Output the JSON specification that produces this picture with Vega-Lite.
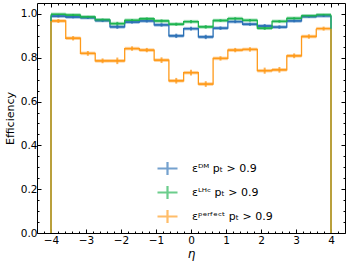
{
  "$schema": "https://vega.github.io/schema/vega-lite/v6.json",
  "width": 308,
  "height": 230,
  "autosize": "none",
  "padding": {"left": 37, "top": 3, "right": 3, "bottom": 29},
  "background": "white",
  "config": {
    "view": {"stroke": "black", "strokeWidth": 1},
    "font": "DejaVu Sans",
    "axis": {"domain": false, "grid": false, "tickColor": "black", "labelColor": "black", "titleColor": "black", "labelFont": "DejaVu Sans", "titleFont": "DejaVu Sans", "labelFontSize": 10.5, "titleFontWeight": "normal"},
    "legend": {"labelFont": "DejaVu Sans"}
  },
  "data": {
    "values": [
      {"series": "DM", "eta": -3.7895, "lo": -4.0, "hi": -3.5789, "eff": 0.990, "lower": 0.984, "upper": 0.996},
      {"series": "DM", "eta": -3.3684, "lo": -3.5789, "hi": -3.1579, "eff": 0.986, "lower": 0.980, "upper": 0.992},
      {"series": "DM", "eta": -2.9474, "lo": -3.1579, "hi": -2.7368, "eff": 0.983, "lower": 0.977, "upper": 0.989},
      {"series": "DM", "eta": -2.5263, "lo": -2.7368, "hi": -2.3158, "eff": 0.970, "lower": 0.963, "upper": 0.977},
      {"series": "DM", "eta": -2.1053, "lo": -2.3158, "hi": -1.8947, "eff": 0.941, "lower": 0.932, "upper": 0.950},
      {"series": "DM", "eta": -1.6842, "lo": -1.8947, "hi": -1.4737, "eff": 0.963, "lower": 0.956, "upper": 0.970},
      {"series": "DM", "eta": -1.2632, "lo": -1.4737, "hi": -1.0526, "eff": 0.968, "lower": 0.961, "upper": 0.975},
      {"series": "DM", "eta": -0.8421, "lo": -1.0526, "hi": -0.6316, "eff": 0.950, "lower": 0.942, "upper": 0.958},
      {"series": "DM", "eta": -0.4211, "lo": -0.6316, "hi": -0.2105, "eff": 0.900, "lower": 0.890, "upper": 0.910},
      {"series": "DM", "eta": 0.0, "lo": -0.2105, "hi": 0.2105, "eff": 0.933, "lower": 0.924, "upper": 0.942},
      {"series": "DM", "eta": 0.4211, "lo": 0.2105, "hi": 0.6316, "eff": 0.895, "lower": 0.885, "upper": 0.905},
      {"series": "DM", "eta": 0.8421, "lo": 0.6316, "hi": 1.0526, "eff": 0.935, "lower": 0.927, "upper": 0.943},
      {"series": "DM", "eta": 1.2632, "lo": 1.0526, "hi": 1.4737, "eff": 0.965, "lower": 0.958, "upper": 0.972},
      {"series": "DM", "eta": 1.6842, "lo": 1.4737, "hi": 1.8947, "eff": 0.953, "lower": 0.946, "upper": 0.960},
      {"series": "DM", "eta": 2.1053, "lo": 1.8947, "hi": 2.3158, "eff": 0.945, "lower": 0.936, "upper": 0.954},
      {"series": "DM", "eta": 2.5263, "lo": 2.3158, "hi": 2.7368, "eff": 0.940, "lower": 0.932, "upper": 0.948},
      {"series": "DM", "eta": 2.9474, "lo": 2.7368, "hi": 3.1579, "eff": 0.968, "lower": 0.962, "upper": 0.974},
      {"series": "DM", "eta": 3.3684, "lo": 3.1579, "hi": 3.5789, "eff": 0.988, "lower": 0.983, "upper": 0.993},
      {"series": "DM", "eta": 3.7895, "lo": 3.5789, "hi": 4.0, "eff": 0.991, "lower": 0.986, "upper": 0.996},
      {"series": "LHC", "eta": -3.7895, "lo": -4.0, "hi": -3.5789, "eff": 0.998, "lower": 0.994, "upper": 1.0},
      {"series": "LHC", "eta": -3.3684, "lo": -3.5789, "hi": -3.1579, "eff": 0.995, "lower": 0.990, "upper": 1.0},
      {"series": "LHC", "eta": -2.9474, "lo": -3.1579, "hi": -2.7368, "eff": 0.986, "lower": 0.981, "upper": 0.991},
      {"series": "LHC", "eta": -2.5263, "lo": -2.7368, "hi": -2.3158, "eff": 0.973, "lower": 0.967, "upper": 0.979},
      {"series": "LHC", "eta": -2.1053, "lo": -2.3158, "hi": -1.8947, "eff": 0.956, "lower": 0.948, "upper": 0.964},
      {"series": "LHC", "eta": -1.6842, "lo": -1.8947, "hi": -1.4737, "eff": 0.971, "lower": 0.965, "upper": 0.977},
      {"series": "LHC", "eta": -1.2632, "lo": -1.4737, "hi": -1.0526, "eff": 0.978, "lower": 0.972, "upper": 0.984},
      {"series": "LHC", "eta": -0.8421, "lo": -1.0526, "hi": -0.6316, "eff": 0.968, "lower": 0.961, "upper": 0.975},
      {"series": "LHC", "eta": -0.4211, "lo": -0.6316, "hi": -0.2105, "eff": 0.953, "lower": 0.946, "upper": 0.960},
      {"series": "LHC", "eta": 0.0, "lo": -0.2105, "hi": 0.2105, "eff": 0.965, "lower": 0.958, "upper": 0.972},
      {"series": "LHC", "eta": 0.4211, "lo": 0.2105, "hi": 0.6316, "eff": 0.941, "lower": 0.933, "upper": 0.949},
      {"series": "LHC", "eta": 0.8421, "lo": 0.6316, "hi": 1.0526, "eff": 0.970, "lower": 0.964, "upper": 0.976},
      {"series": "LHC", "eta": 1.2632, "lo": 1.0526, "hi": 1.4737, "eff": 0.979, "lower": 0.973, "upper": 0.985},
      {"series": "LHC", "eta": 1.6842, "lo": 1.4737, "hi": 1.8947, "eff": 0.971, "lower": 0.965, "upper": 0.977},
      {"series": "LHC", "eta": 2.1053, "lo": 1.8947, "hi": 2.3158, "eff": 0.935, "lower": 0.927, "upper": 0.943},
      {"series": "LHC", "eta": 2.5263, "lo": 2.3158, "hi": 2.7368, "eff": 0.966, "lower": 0.960, "upper": 0.972},
      {"series": "LHC", "eta": 2.9474, "lo": 2.7368, "hi": 3.1579, "eff": 0.980, "lower": 0.975, "upper": 0.985},
      {"series": "LHC", "eta": 3.3684, "lo": 3.1579, "hi": 3.5789, "eff": 0.991, "lower": 0.987, "upper": 0.995},
      {"series": "LHC", "eta": 3.7895, "lo": 3.5789, "hi": 4.0, "eff": 0.996, "lower": 0.992, "upper": 1.0},
      {"series": "perfect", "eta": -3.7895, "lo": -4.0, "hi": -3.5789, "eff": 0.968, "lower": 0.959, "upper": 0.977},
      {"series": "perfect", "eta": -3.3684, "lo": -3.5789, "hi": -3.1579, "eff": 0.889, "lower": 0.879, "upper": 0.899},
      {"series": "perfect", "eta": -2.9474, "lo": -3.1579, "hi": -2.7368, "eff": 0.820, "lower": 0.809, "upper": 0.831},
      {"series": "perfect", "eta": -2.5263, "lo": -2.7368, "hi": -2.3158, "eff": 0.786, "lower": 0.775, "upper": 0.797},
      {"series": "perfect", "eta": -2.1053, "lo": -2.3158, "hi": -1.8947, "eff": 0.786, "lower": 0.771, "upper": 0.801},
      {"series": "perfect", "eta": -1.6842, "lo": -1.8947, "hi": -1.4737, "eff": 0.842, "lower": 0.832, "upper": 0.852},
      {"series": "perfect", "eta": -1.2632, "lo": -1.4737, "hi": -1.0526, "eff": 0.835, "lower": 0.825, "upper": 0.845},
      {"series": "perfect", "eta": -0.8421, "lo": -1.0526, "hi": -0.6316, "eff": 0.789, "lower": 0.776, "upper": 0.802},
      {"series": "perfect", "eta": -0.4211, "lo": -0.6316, "hi": -0.2105, "eff": 0.695, "lower": 0.682, "upper": 0.708},
      {"series": "perfect", "eta": 0.0, "lo": -0.2105, "hi": 0.2105, "eff": 0.732, "lower": 0.719, "upper": 0.745},
      {"series": "perfect", "eta": 0.4211, "lo": 0.2105, "hi": 0.6316, "eff": 0.680, "lower": 0.667, "upper": 0.693},
      {"series": "perfect", "eta": 0.8421, "lo": 0.6316, "hi": 1.0526, "eff": 0.797, "lower": 0.787, "upper": 0.807},
      {"series": "perfect", "eta": 1.2632, "lo": 1.0526, "hi": 1.4737, "eff": 0.835, "lower": 0.825, "upper": 0.845},
      {"series": "perfect", "eta": 1.6842, "lo": 1.4737, "hi": 1.8947, "eff": 0.838, "lower": 0.828, "upper": 0.848},
      {"series": "perfect", "eta": 2.1053, "lo": 1.8947, "hi": 2.3158, "eff": 0.741, "lower": 0.727, "upper": 0.755},
      {"series": "perfect", "eta": 2.5263, "lo": 2.3158, "hi": 2.7368, "eff": 0.745, "lower": 0.732, "upper": 0.758},
      {"series": "perfect", "eta": 2.9474, "lo": 2.7368, "hi": 3.1579, "eff": 0.809, "lower": 0.798, "upper": 0.820},
      {"series": "perfect", "eta": 3.3684, "lo": 3.1579, "hi": 3.5789, "eff": 0.897, "lower": 0.887, "upper": 0.907},
      {"series": "perfect", "eta": 3.7895, "lo": 3.5789, "hi": 4.0, "eff": 0.933, "lower": 0.924, "upper": 0.942}
    ]
  },
  "resolve": {"axis": {"x": "independent", "y": "independent"}},
  "layer": [
    {
      "mark": {"type": "rule", "strokeWidth": 3.5, "opacity": 0.45},
      "encoding": {
        "x": {"field": "lo", "type": "quantitative", "scale": {"domain": [-4.4, 4.4], "nice": false, "zero": false},
              "axis": {"orient": "bottom", "values": [-4, -3, -2, -1, 0, 1, 2, 3, 4], "tickSize": -4, "tickWidth": 1, "labelPadding": 6, "title": "η", "titleFontStyle": "italic", "titleFontSize": 12, "titlePadding": 3}},
        "x2": {"field": "hi"},
        "y": {"field": "eff", "type": "quantitative", "scale": {"domain": [0, 1.05], "nice": false, "zero": false},
              "axis": {"orient": "left", "values": [0, 0.2, 0.4, 0.6, 0.8, 1.0], "format": ".1f", "tickSize": -4, "tickWidth": 1, "labelPadding": 4, "title": "Efficiency", "titleFontSize": 11, "titlePadding": 5}},
        "color": {"field": "series", "type": "nominal",
                  "scale": {"domain": ["DM", "LHC", "perfect"], "range": ["#2a6fb5", "#1db34f", "#ff9a1a"]},
                  "legend": {"orient": "none", "legendX": 119, "legendY": 154, "title": null,
                             "symbolType": "M-1,0H1M0,-0.65V0.65", "symbolSize": 400, "symbolStrokeWidth": 2.2, "symbolOpacity": 0.65,
                             "labelFontSize": 11, "rowPadding": 1, "labelOffset": 13,
                             "labelExpr": "datum.label == 'DM' ? 'εᴰᴹ  pₜ > 0.9' : datum.label == 'LHC' ? 'εᴸᴴᶜ  pₜ > 0.9' : 'εᵖᵉʳᶠᵉᶜᵗ  pₜ > 0.9'"}}
      }
    },
    {
      "mark": {"type": "rule", "strokeWidth": 2, "opacity": 0.75},
      "encoding": {
        "x": {"field": "eta", "type": "quantitative", "scale": {"domain": [-4.4, 4.4], "nice": false, "zero": false},
              "axis": {"orient": "top", "values": [-4, -3, -2, -1, 0, 1, 2, 3, 4], "tickSize": -4, "labels": false, "title": null}},
        "y": {"field": "lower", "type": "quantitative", "scale": {"domain": [0, 1.05], "nice": false, "zero": false},
              "axis": {"orient": "right", "values": [0, 0.2, 0.4, 0.6, 0.8, 1.0], "tickSize": -4, "labels": false, "title": null}},
        "y2": {"field": "upper"},
        "color": {"field": "series", "type": "nominal", "legend": null}
      }
    },
    {
      "mark": {"type": "rule", "strokeWidth": 1.3},
      "encoding": {
        "x": {"field": "lo", "type": "quantitative", "scale": {"domain": [-4.4, 4.4], "nice": false, "zero": false},
              "axis": {"orient": "bottom", "values": [-4.2, -3.8, -3.6, -3.4, -3.2, -2.8, -2.6, -2.4, -2.2, -1.8, -1.6, -1.4, -1.2, -0.8, -0.6, -0.4, -0.2, 0.2, 0.4, 0.6, 0.8, 1.2, 1.4, 1.6, 1.8, 2.2, 2.4, 2.6, 2.8, 3.2, 3.4, 3.6, 3.8, 4.2], "tickSize": -2, "labels": false, "title": null}},
        "x2": {"field": "hi"},
        "y": {"field": "eff", "type": "quantitative", "scale": {"domain": [0, 1.05], "nice": false, "zero": false},
              "axis": {"orient": "left", "values": [0.05, 0.1, 0.15, 0.25, 0.3, 0.35, 0.45, 0.5, 0.55, 0.65, 0.7, 0.75, 0.85, 0.9, 0.95], "tickSize": -2, "labels": false, "title": null}},
        "color": {"field": "series", "type": "nominal", "legend": null}
      }
    },
    {
      "mark": {"type": "line", "strokeWidth": 1.3, "interpolate": "step-after"},
      "encoding": {
        "x": {"field": "lo", "type": "quantitative", "scale": {"domain": [-4.4, 4.4], "nice": false, "zero": false},
              "axis": {"orient": "top", "values": [-4.2, -3.8, -3.6, -3.4, -3.2, -2.8, -2.6, -2.4, -2.2, -1.8, -1.6, -1.4, -1.2, -0.8, -0.6, -0.4, -0.2, 0.2, 0.4, 0.6, 0.8, 1.2, 1.4, 1.6, 1.8, 2.2, 2.4, 2.6, 2.8, 3.2, 3.4, 3.6, 3.8, 4.2], "tickSize": -2, "labels": false, "title": null}},
        "y": {"field": "eff", "type": "quantitative", "scale": {"domain": [0, 1.05], "nice": false, "zero": false},
              "axis": {"orient": "right", "values": [0.05, 0.1, 0.15, 0.25, 0.3, 0.35, 0.45, 0.5, 0.55, 0.65, 0.7, 0.75, 0.85, 0.9, 0.95], "tickSize": -2, "labels": false, "title": null}},
        "color": {"field": "series", "type": "nominal", "legend": null}
      }
    },
    {
      "transform": [{"filter": "datum.lo < -3.99"}],
      "mark": {"type": "rule", "strokeWidth": 1.3},
      "encoding": {
        "x": {"field": "lo", "type": "quantitative", "axis": null},
        "y": {"field": "eff", "type": "quantitative", "axis": null},
        "y2": {"datum": 0},
        "color": {"field": "series", "type": "nominal", "legend": null}
      }
    },
    {
      "transform": [{"filter": "datum.hi > 3.99"}],
      "mark": {"type": "rule", "strokeWidth": 1.3},
      "encoding": {
        "x": {"field": "hi", "type": "quantitative", "axis": null},
        "y": {"field": "eff", "type": "quantitative", "axis": null},
        "y2": {"datum": 0},
        "color": {"field": "series", "type": "nominal", "legend": null}
      }
    }
  ]
}
